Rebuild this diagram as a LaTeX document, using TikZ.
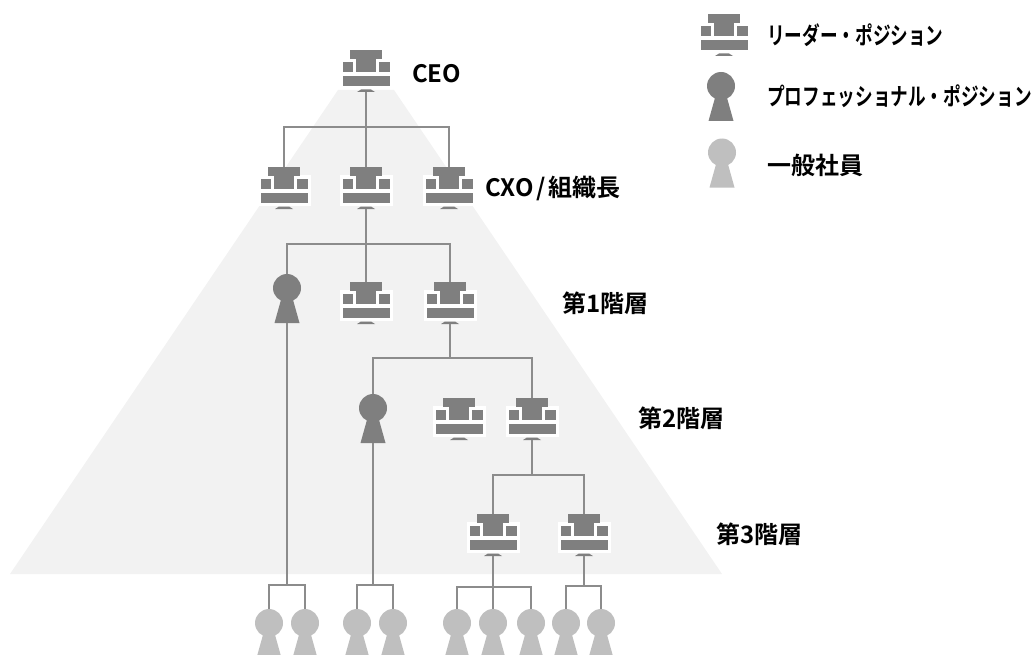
\documentclass[tikz,border=0pt]{standalone}
\usepackage{fontspec}
\setmainfont{Noto Sans CJK JP}[BoldFont={Noto Sans CJK JP Bold}]
\newfontfamily\kanafont{Noto Sans CJK JP Bold}[FakeStretch=0.735]
\usetikzlibrary{positioning}
\definecolor{icongray}{HTML}{7F7F7F}
\definecolor{staffgray}{HTML}{BFBFBF}
\definecolor{linegray}{HTML}{8C8C8C}
\definecolor{pyramidgray}{HTML}{F2F2F2}
\newcommand{\leadericon}[1]{
	\begin{scope}[shift={(#1.north)}, y=-1pt]
		\fill [white] (-26.5,8) rectangle (26.5,39);
		\fill [icongray] (-16,0) rectangle (16,9);
		\fill [icongray] (-10,9) rectangle (10,22);
		\fill [icongray] (-23.5,12) rectangle (-13,22);
		\fill [icongray] (13,12) rectangle (23.5,22);
		\fill [icongray] (-23.5,26) rectangle (23.5,36);
		\fill [icongray] (-5,39.5) -- (5,39.5) -- (9,42) -- (-9,42) -- cycle;
	\end{scope}
}
\newcommand{\personicon}[2]{
	\begin{scope}[shift={(#1.north)}, y=-1pt]
		\fill [#2] (0,14) circle (14pt);
		\fill [#2] (-5.5,24) -- (5.5,24) -- (12.5,49) -- (-12.5,49) -- cycle;
	\end{scope}
}
\tikzstyle{leader}=[
	rectangle,
	inner sep=0pt,
	outer sep=0pt,
	minimum width=53pt,
	minimum height=42pt
]
\tikzstyle{person}=[
	rectangle,
	inner sep=0pt,
	outer sep=0pt,
	minimum width=28pt,
	minimum height=49pt
]
\tikzstyle{caption}=[
	inner sep=0pt,
	font=\bfseries\fontsize{24}{24}\selectfont
]
\tikzstyle{legendtext}=[
	inner sep=0pt,
	font=\kanafont\fontsize{24}{24}\selectfont
]
\tikzstyle{link}=[
	draw=linegray,
	line width=1.5pt
]

\begin{document}
\begin{tikzpicture}[x=1pt,y=1pt]
\useasboundingbox (0,-655) rectangle (1032,0);
\fill [pyramidgray] (338,-90) -- (394,-90) -- (722,-574) -- (10,-574) -- cycle;

\node [leader] (CEO) at (366,-71) {};
\node [leader] (CXOb)[below=75pt of CEO] {};
\node [leader] (CXOa)[left=29pt of CXOb] {};
\node [leader] (CXOc)[right=30pt of CXOb] {};
\node [leader] (LevelOneA)[below=73pt of CXOb] {};
\node [leader] (LevelOneB)[right=31pt of LevelOneA] {};
\node [person] (ProA) at (287,-298.5) {};
\node [leader] (LevelTwoB) at (532,-419) {};
\node [leader] (LevelTwoA)[left=20pt of LevelTwoB] {};
\node [person] (ProB) at (373,-418.5) {};
\node [leader] (LevelThreeA) at (493,-535) {};
\node [leader] (LevelThreeB)[right=38pt of LevelThreeA] {};

\node [person] (StaffA) at (269,-633.5) {};
\node [person] (StaffB)[right=8pt of StaffA] {};
\node [person] (StaffC)[right=24pt of StaffB] {};
\node [person] (StaffD)[right=8pt of StaffC] {};
\node [person] (StaffE)[right=36pt of StaffD] {};
\node [person] (StaffF)[right=8pt of StaffE] {};
\node [person] (StaffG)[right=10pt of StaffF] {};
\node [person] (StaffH)[right=7pt of StaffG] {};
\node [person] (StaffI)[right=7pt of StaffH] {};

\node [leader] (LegendLeader) at (724,-35) {};
\node [person] (LegendPro) at (721,-96.5) {};
\node [person] (LegendStaff) at (722,-163) {};

\foreach \name in {CEO,CXOa,CXOb,CXOc,LevelOneA,LevelOneB,LevelTwoA,LevelTwoB,LevelThreeA,LevelThreeB,LegendLeader}
	\leadericon{\name};
\foreach \name in {ProA,ProB,LegendPro}
	\personicon{\name}{icongray};
\foreach \name in {StaffA,StaffB,StaffC,StaffD,StaffE,StaffF,StaffG,StaffH,StaffI,LegendStaff}
	\personicon{\name}{staffgray};

\coordinate (CEOfork) at (366,-127);
\coordinate (CXOfork) at (366,-244);
\coordinate (LevelOneFork) at (450,-358);
\coordinate (LevelTwoFork) at (532,-475);
\coordinate (ProAfork) at (287,-585);
\coordinate (ProBfork) at (373,-585);
\coordinate (LevelThreeAfork) at (493,-587);
\coordinate (LevelThreeBfork) at (584,-586);

\draw [link] (CEO.south) -- (CEOfork);
\draw [link] (CEOfork) -| (CXOa.north);
\draw [link] (CEOfork) -- (CXOb.north);
\draw [link] (CEOfork) -| (CXOc.north);
\draw [link] (CXOb.south) -- (CXOfork);
\draw [link] (CXOfork) -| (ProA.north);
\draw [link] (CXOfork) -- (LevelOneA.north);
\draw [link] (CXOfork) -| (LevelOneB.north);
\draw [link] (LevelOneB.south) -- (LevelOneFork);
\draw [link] (LevelOneFork) -| (ProB.north);
\draw [link] (LevelOneFork) -| (LevelTwoB.north);
\draw [link] (LevelTwoB.south) -- (LevelTwoFork);
\draw [link] (LevelTwoFork) -| (LevelThreeA.north);
\draw [link] (LevelTwoFork) -| (LevelThreeB.north);
\draw [link] (ProA.south) -- (ProAfork);
\draw [link] (ProAfork) -| (StaffA.north);
\draw [link] (ProAfork) -| (StaffB.north);
\draw [link] (ProB.south) -- (ProBfork);
\draw [link] (ProBfork) -| (StaffC.north);
\draw [link] (ProBfork) -| (StaffD.north);
\draw [link] (LevelThreeA.south) -- (LevelThreeAfork);
\draw [link] (LevelThreeAfork) -| (StaffE.north);
\draw [link] (LevelThreeAfork) -- (StaffF.north);
\draw [link] (LevelThreeAfork) -| (StaffG.north);
\draw [link] (LevelThreeB.south) -- (LevelThreeBfork);
\draw [link] (LevelThreeBfork) -| (StaffH.north);
\draw [link] (LevelThreeBfork) -| (StaffI.north);

\node [caption, anchor=west] (CEOtext) at (412,-74) {CEO};
\node [caption, anchor=west] (CXOtext) at (485,-188) {CXO\kern3pt/\kern3pt組織長};
\node [caption, anchor=west] (LevelOneText) at (562,-303) {第1階層};
\node [caption, anchor=west] (LevelTwoText) at (638,-418) {第2階層};
\node [caption, anchor=west] (LevelThreeText) at (716,-534) {第3階層};

\node [legendtext, anchor=west] (LeaderText) at (767,-35) {リーダー・ポジション};
\node [legendtext, anchor=west] (ProText) at (767,-96) {プロフェッショナル・ポジション};
\node [caption, anchor=west] (StaffText) at (767,-165) {一般社員};
\end{tikzpicture}
\end{document}
